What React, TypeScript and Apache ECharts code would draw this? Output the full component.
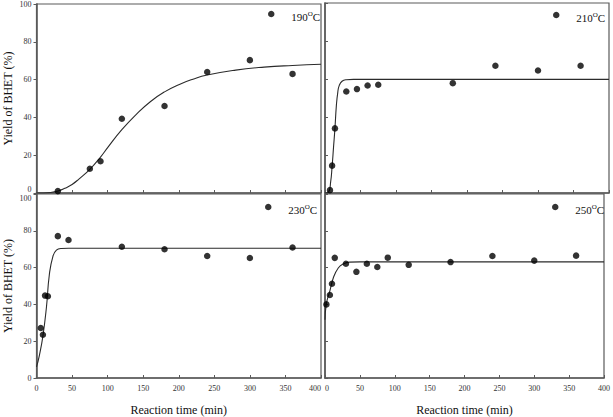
import React, { useEffect, useRef } from "react";
import * as echarts from "echarts";

// Measured BHET yields (%) vs. reaction time (min) at four temperatures
const t190 = [30, 75, 90, 120, 180, 240, 300, 360];
const y190 = [1, 12.8, 16.8, 39.3, 46, 64, 70.3, 63];
const t210 = [7, 10, 14, 30, 45, 60, 75, 180, 240, 300, 360];
const y210 = [1.5, 14.4, 34, 53.4, 54.7, 56.6, 57, 57.8, 67, 64.5, 67];
const t230 = [6, 9, 12, 16, 30, 45, 120, 180, 240, 300, 360];
const y230 = [27.2, 23.5, 44.8, 44.4, 77.1, 75, 71.3, 70, 66.3, 65.2, 70.9];
const t250 = [2, 7, 10, 14, 30, 45, 60, 75, 90, 120, 180, 240, 300, 360];
const y250 = [40, 45.1, 51.2, 65.3, 62.1, 57.7, 62.1, 60.3, 65.4, 61.5, 63, 66.3, 63.8, 66.5];

// Fitted kinetic curves
const fitT190 = [0, 20, 30, 40, 50, 60, 75, 90, 100, 120, 140, 160, 180, 200, 220, 240, 280, 320, 360, 400];
const fitY190 = [0, 0.3, 1, 2.5, 4.5, 7.5, 12.5, 19, 24, 33.5, 41.5, 48.3, 53.5, 57.3, 60.2, 62.4, 65, 66.6, 67.5, 68.1];
const fitT210 = [0, 5, 8, 10, 12, 14, 16, 18, 20, 24, 30, 40, 400];
const fitY210 = [0, 0.5, 6, 14, 24, 34, 46, 53, 56.5, 58.8, 59.6, 59.8, 59.8];
const fitT230 = [0, 4, 9, 14, 18, 23, 28, 35, 45, 400];
const fitY230 = [6, 12.2, 22.8, 38.6, 56, 66, 69.5, 70.4, 70.5, 70.5];
const fitT250 = [0, 2, 7, 12, 19, 26, 35, 50, 400];
const fitY250 = [31.6, 40.4, 47.4, 54.5, 59.8, 62, 63, 63.1, 63.1];

const temps = ["190", "210", "230", "250"];
const xTicks = [0, 50, 100, 150, 200, 250, 300, 350, 400];
const yTicks = [0, 20, 40, 60, 80, 100];

const yAxisTitle = "Yield of BHET (%)";
const xAxisTitle = "Reaction time (min)";

const FONT = "'Liberation Serif', 'Times New Roman', serif";
const AXIS_COLOR = "#5a5a5a";

function zip(xs: number[], ys: number[]) {
  return xs.map((x, i) => [x, ys[i]]);
}

export default function App() {
  const ref = useRef<HTMLDivElement>(null);

  useEffect(() => {
    if (!ref.current) return;
    const chart = echarts.init(ref.current, undefined, { renderer: "svg" });

    const points = [zip(t190, y190), zip(t210, y210), zip(t230, y230), zip(t250, y250)];
    const fits = [
      zip(fitT190, fitY190),
      zip(fitT210, fitY210),
      zip(fitT230, fitY230),
      zip(fitT250, fitY250),
    ];

    const grids = [
      { left: 36.5, top: 3, width: 284.5, height: 190 },
      { left: 325, top: 3, width: 284, height: 190 },
      { left: 36.5, top: 194, width: 284.5, height: 189 },
      { left: 325, top: 194, width: 284, height: 189 },
    ].map((g) => ({
      ...g,
      show: true,
      borderColor: AXIS_COLOR,
      borderWidth: 1.2,
      backgroundColor: "transparent",
    }));

    const xAxis = grids.map((_, i) => {
      const bottom = i >= 2;
      const leftCol = i % 2 === 0;
      return {
        type: "value",
        gridIndex: i,
        min: xTicks[0],
        max: xTicks[xTicks.length - 1],
        interval: xTicks[1] - xTicks[0],
        axisLine: { lineStyle: { color: AXIS_COLOR, width: 1.6 } },
        axisTick: { inside: true, length: 3, lineStyle: { color: AXIS_COLOR } },
        axisLabel: {
          show: bottom,
          margin: 6,
          fontSize: 8,
          color: "#333",
          fontFamily: FONT,
          alignMinLabel: leftCol ? "center" : "left",
          alignMaxLabel: leftCol ? "right" : "center",
        },
        splitLine: { show: false },
        name: bottom ? xAxisTitle : "",
        nameLocation: "middle",
        nameGap: 26,
        nameTextStyle: { fontSize: 12, color: "#111", fontFamily: FONT },
      };
    });

    const yAxis = grids.map((_, i) => {
      const left = i % 2 === 0;
      const top = i < 2;
      return {
        type: "value",
        gridIndex: i,
        min: yTicks[0],
        max: yTicks[yTicks.length - 1],
        interval: yTicks[1] - yTicks[0],
        axisLine: { lineStyle: { color: AXIS_COLOR, width: 1.6 } },
        axisTick: { inside: !left, length: 3, lineStyle: { color: AXIS_COLOR } },
        axisLabel: {
          show: left,
          margin: 5,
          fontSize: 8,
          color: "#333",
          fontFamily: FONT,
          // the shared edge between stacked panels: keep its two labels apart
          verticalAlignMinLabel: top ? "bottom" : "middle",
          verticalAlignMaxLabel: top ? "middle" : "top",
        },
        splitLine: { show: false },
        name: left ? yAxisTitle : "",
        nameLocation: "middle",
        nameGap: 23,
        nameTextStyle: { fontSize: 12, color: "#111", fontFamily: FONT },
      };
    });

    const series: any[] = [];
    temps.forEach((t, i) => {
      series.push({
        type: "line",
        name: "fit" + t,
        xAxisIndex: i,
        yAxisIndex: i,
        data: fits[i],
        showSymbol: false,
        symbol: "none",
        smooth: 0.5,
        lineStyle: { color: "#2b2b2b", width: 1.1 },
        z: 2,
      });
      series.push({
        type: "scatter",
        name: t + "°C",
        xAxisIndex: i,
        yAxisIndex: i,
        data: points[i],
        symbol: "circle",
        symbolSize: 6.5,
        itemStyle: { color: "#000" },
        z: 3,
      });
    });

    const legendPos = [
      { left: 268, top: 10 },
      { left: 553, top: 11 },
      { left: 265, top: 203 },
      { left: 552, top: 203 },
    ];

    const legend = temps.map((t, i) => ({
      data: [t + "°C"],
      left: legendPos[i].left,
      top: legendPos[i].top,
      icon: "circle",
      itemWidth: 30,
      itemHeight: 6.5,
      padding: 0,
      selectedMode: false,
      formatter: () => `{n|${t}}{sup|O}{n|C}`,
      textStyle: {
        fontFamily: FONT,
        color: "#111",
        rich: {
          n: { fontSize: 11, fontFamily: FONT, color: "#111", verticalAlign: "bottom", lineHeight: 16 },
          sup: {
            fontSize: 7,
            fontFamily: FONT,
            color: "#111",
            verticalAlign: "bottom",
            lineHeight: 16,
            padding: [0, 0, 5, 0],
          },
        },
      },
    }));

    chart.setOption({
      animation: false,
      backgroundColor: "#fff",
      textStyle: { fontFamily: FONT },
      grid: grids,
      xAxis,
      yAxis,
      legend,
      series,
    });

    return () => chart.dispose();
  }, []);

  return (
    <div
      ref={ref}
      style={{ position: "fixed", left: 0, top: 0, width: 613, height: 417, background: "#fff" }}
    />
  );
}
